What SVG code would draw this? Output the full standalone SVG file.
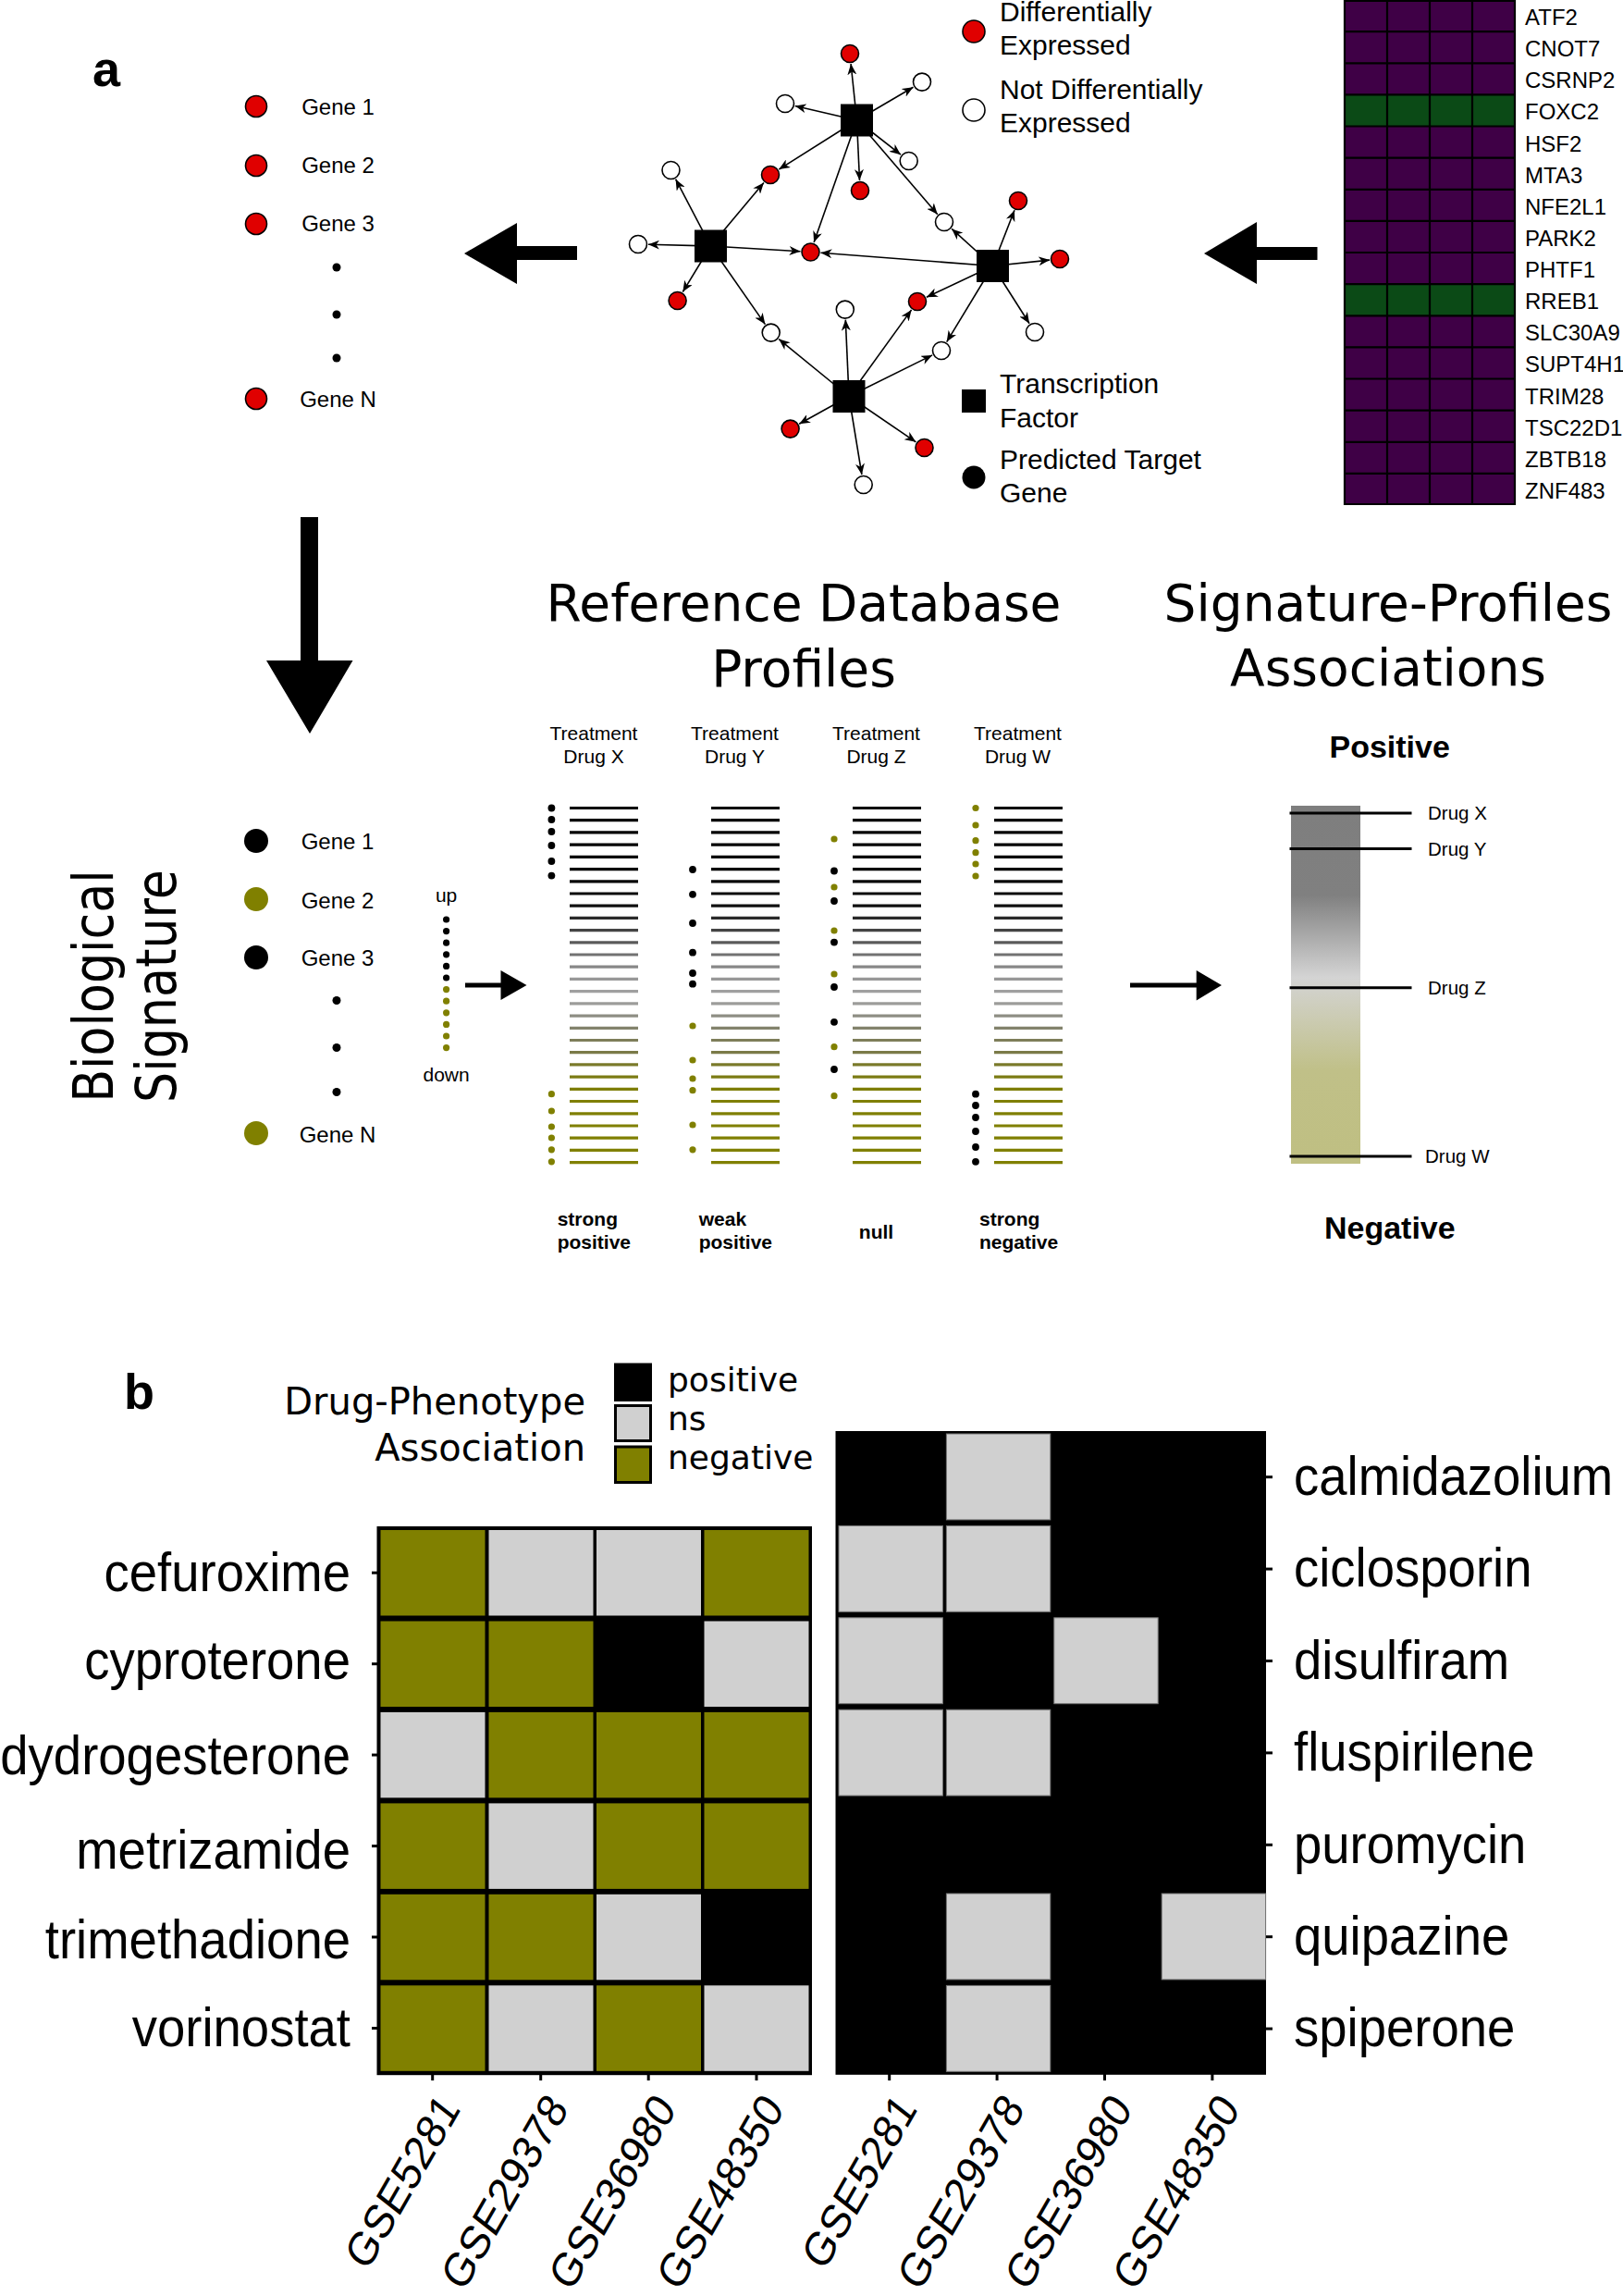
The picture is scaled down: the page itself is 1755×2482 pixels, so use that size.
<svg xmlns="http://www.w3.org/2000/svg" width="1755" height="2482" viewBox="0 0 1755 2482">
<style>
.s{font-family:"Liberation Sans",Arial,sans-serif;fill:#000}
.d{font-family:"DejaVu Sans",Verdana,sans-serif;fill:#000}
.b{font-weight:bold}
.e{stroke:#000;stroke-width:1.6;fill:none;marker-end:url(#ah)}
.rn{fill:#e00000;stroke:#000;stroke-width:1.6}
.wn{fill:#fff;stroke:#000;stroke-width:1.6}
.ol{fill:#808000}
.bk{fill:#000}
.gy{fill:#d0d0d0}
.gc{fill:#d0d0d0;stroke:#777;stroke-width:1}
</style>
<defs>
<marker id="ah" viewBox="0 0 12 10" refX="12" refY="5" markerWidth="12" markerHeight="10" markerUnits="userSpaceOnUse" orient="auto">
<path d="M0,0 L12,5 L0,10 L3.5,5 z" fill="#000"/>
</marker>
<linearGradient id="sig" x1="0" y1="0" x2="0" y2="1">
<stop offset="0" stop-color="#7e7e7e"/>
<stop offset="0.25" stop-color="#808080"/>
<stop offset="0.48" stop-color="#d4d4d4"/>
<stop offset="0.74" stop-color="#c0c088"/>
<stop offset="1" stop-color="#bfbf82"/>
</linearGradient>
<g id="bars" stroke-width="3.2">
<line x1="0" x2="74" y1="873.5" y2="873.5" stroke="#000"/>
<line x1="0" x2="74" y1="886.7" y2="886.7" stroke="#000"/>
<line x1="0" x2="74" y1="899.9" y2="899.9" stroke="#000"/>
<line x1="0" x2="74" y1="913.1" y2="913.1" stroke="#000"/>
<line x1="0" x2="74" y1="926.3" y2="926.3" stroke="#000"/>
<line x1="0" x2="74" y1="939.6" y2="939.6" stroke="#000"/>
<line x1="0" x2="74" y1="952.8" y2="952.8" stroke="#050505"/>
<line x1="0" x2="74" y1="966.0" y2="966.0" stroke="#0a0a0a"/>
<line x1="0" x2="74" y1="979.2" y2="979.2" stroke="#111"/>
<line x1="0" x2="74" y1="992.4" y2="992.4" stroke="#2a2a2a"/>
<line x1="0" x2="74" y1="1005.6" y2="1005.6" stroke="#444"/>
<line x1="0" x2="74" y1="1018.8" y2="1018.8" stroke="#5a5a5a"/>
<line x1="0" x2="74" y1="1032.0" y2="1032.0" stroke="#727272"/>
<line x1="0" x2="74" y1="1045.2" y2="1045.2" stroke="#888"/>
<line x1="0" x2="74" y1="1058.4" y2="1058.4" stroke="#989898"/>
<line x1="0" x2="74" y1="1071.7" y2="1071.7" stroke="#a0a0a0"/>
<line x1="0" x2="74" y1="1084.9" y2="1084.9" stroke="#9c9c9a"/>
<line x1="0" x2="74" y1="1098.1" y2="1098.1" stroke="#8e8e84"/>
<line x1="0" x2="74" y1="1111.3" y2="1111.3" stroke="#83836c"/>
<line x1="0" x2="74" y1="1124.5" y2="1124.5" stroke="#7e7e5a"/>
<line x1="0" x2="74" y1="1137.7" y2="1137.7" stroke="#7a7a48"/>
<line x1="0" x2="74" y1="1150.9" y2="1150.9" stroke="#7a7a2a"/>
<line x1="0" x2="74" y1="1164.1" y2="1164.1" stroke="#7c7c14"/>
<line x1="0" x2="74" y1="1177.3" y2="1177.3" stroke="#7e7e05"/>
<line x1="0" x2="74" y1="1190.5" y2="1190.5" stroke="#7f7f00"/>
<line x1="0" x2="74" y1="1203.8" y2="1203.8" stroke="#7f7f00"/>
<line x1="0" x2="74" y1="1217.0" y2="1217.0" stroke="#808000"/>
<line x1="0" x2="74" y1="1230.2" y2="1230.2" stroke="#808000"/>
<line x1="0" x2="74" y1="1243.4" y2="1243.4" stroke="#808000"/>
<line x1="0" x2="74" y1="1256.6" y2="1256.6" stroke="#808000"/>
</g>
</defs>
<rect width="1755" height="2482" fill="#fff"/>

<!-- ===== Panel a : top row ===== -->
<g id="label-a"><text class="s b" x="100" y="93" font-size="54">a</text></g>

<g id="gene-list-top">
<circle class="rn" cx="277" cy="115" r="11.5" stroke-width="2.6"/>
<circle class="rn" cx="277" cy="179" r="11.5" stroke-width="2.6"/>
<circle class="rn" cx="277" cy="242" r="11.5" stroke-width="2.6"/>
<circle class="rn" cx="277" cy="431" r="11.5" stroke-width="2.6"/>
<g class="s" font-size="24" text-anchor="middle">
<text x="365.5" y="124">Gene 1</text>
<text x="365.5" y="187">Gene 2</text>
<text x="365.5" y="250">Gene 3</text>
<text x="365.5" y="440">Gene N</text>
</g>
<circle cx="364" cy="289" r="4.5"/>
<circle cx="364" cy="340" r="4.5"/>
<circle cx="364" cy="387" r="4.5"/>
</g>

<g id="connectors">
<polygon points="502,274 559,241 559,266 624,266 624,281 559,281 559,307"/>
<polygon points="1302,274 1359,240 1359,267 1424.5,267 1424.5,281 1359,281 1359,307"/>
<polygon points="325,559 344,559 344,714 381.5,714 335,793 288,714 325,714"/>
<polygon points="503,1062.5 541.5,1062.5 541.5,1049 569.5,1065 541.5,1081 541.5,1067.5 503,1067.5"/>
<polygon points="1222,1062.5 1293.7,1062.5 1293.7,1049 1321,1065 1293.7,1081.6 1293.7,1067.5 1222,1067.5"/>
<line class="e" x1="926.5" y1="130" x2="920.1" y2="69"/>
<line class="e" x1="926.5" y1="130" x2="987.5" y2="94.2"/>
<line class="e" x1="926.5" y1="130" x2="859.7" y2="114.5"/>
<line class="e" x1="926.5" y1="130" x2="842.3" y2="183.1"/>
<line class="e" x1="926.5" y1="130" x2="929.5" y2="195"/>
<line class="e" x1="926.5" y1="130" x2="974" y2="167.2"/>
<line class="e" x1="926.5" y1="130" x2="1013.8" y2="231.7"/>
<line class="e" x1="926.5" y1="130" x2="880.1" y2="262.1"/>
<line class="e" x1="768.5" y1="266" x2="730.6" y2="193.7"/>
<line class="e" x1="768.5" y1="266" x2="825.9" y2="197.4"/>
<line class="e" x1="768.5" y1="266" x2="701" y2="264.3"/>
<line class="e" x1="768.5" y1="266" x2="865.5" y2="271.8"/>
<line class="e" x1="768.5" y1="266" x2="738.3" y2="315.6"/>
<line class="e" x1="768.5" y1="266" x2="827.4" y2="350.6"/>
<line class="e" x1="1073.5" y1="287.5" x2="1029.2" y2="247.4"/>
<line class="e" x1="1073.5" y1="287.5" x2="1097" y2="227.2"/>
<line class="e" x1="1073.5" y1="287.5" x2="1135.1" y2="281.1"/>
<line class="e" x1="1073.5" y1="287.5" x2="887.5" y2="273.3"/>
<line class="e" x1="1073.5" y1="287.5" x2="1001.9" y2="321.3"/>
<line class="e" x1="1073.5" y1="287.5" x2="1023.7" y2="369.6"/>
<line class="e" x1="1073.5" y1="287.5" x2="1113.1" y2="349.7"/>
<line class="e" x1="918" y1="428.5" x2="842.2" y2="366.6"/>
<line class="e" x1="918" y1="428.5" x2="914.3" y2="345.6"/>
<line class="e" x1="918" y1="428.5" x2="985.6" y2="334.9"/>
<line class="e" x1="918" y1="428.5" x2="1008.1" y2="383.9"/>
<line class="e" x1="918" y1="428.5" x2="864.2" y2="458.3"/>
<line class="e" x1="918" y1="428.5" x2="990.4" y2="477.8"/>
<line class="e" x1="918" y1="428.5" x2="931.9" y2="513.1"/>
</g>

<g id="network">
<g id="tf-nodes">
<rect x="909" y="112.5" width="35" height="35"/>
<rect x="751" y="248.5" width="35" height="35"/>
<rect x="1056" y="270" width="35" height="35"/>
<rect x="900.5" y="411" width="35" height="35"/>
</g>
<g id="target-nodes">
<circle class="rn" cx="919" cy="58" r="9.5"/>
<circle class="rn" cx="833" cy="189" r="9.5"/>
<circle class="rn" cx="930" cy="206" r="9.5"/>
<circle class="rn" cx="876.5" cy="272.5" r="9.5"/>
<circle class="rn" cx="1101" cy="217" r="9.5"/>
<circle class="rn" cx="1146" cy="280" r="9.5"/>
<circle class="rn" cx="732.6" cy="325" r="9.5"/>
<circle class="rn" cx="992" cy="326" r="9.5"/>
<circle class="rn" cx="854.6" cy="463.6" r="9.5"/>
<circle class="rn" cx="999.5" cy="484" r="9.5"/>
<circle class="wn" cx="997" cy="88.6" r="9.5"/>
<circle class="wn" cx="849" cy="112" r="9.5"/>
<circle class="wn" cx="982.7" cy="174" r="9.5"/>
<circle class="wn" cx="725.5" cy="184" r="9.5"/>
<circle class="wn" cx="1021" cy="240" r="9.5"/>
<circle class="wn" cx="690" cy="264" r="9.5"/>
<circle class="wn" cx="913.8" cy="334.6" r="9.5"/>
<circle class="wn" cx="833.7" cy="359.6" r="9.5"/>
<circle class="wn" cx="1119" cy="359" r="9.5"/>
<circle class="wn" cx="1018" cy="379" r="9.5"/>
<circle class="wn" cx="933.7" cy="524" r="9.5"/>
</g>
</g>

<g id="network-legend" class="s" font-size="30">
<circle class="rn" cx="1053" cy="34" r="12" stroke-width="2.4"/>
<text x="1081" y="23">Differentially</text>
<text x="1081" y="59">Expressed</text>
<circle class="wn" cx="1053" cy="119" r="12" stroke-width="2.4"/>
<text x="1081" y="107">Not Differentially</text>
<text x="1081" y="143">Expressed</text>
<rect x="1040" y="421" width="26" height="25"/>
<text x="1081" y="425">Transcription</text>
<text x="1081" y="462">Factor</text>
<circle cx="1053" cy="516" r="12.5"/>
<text x="1081" y="507">Predicted Target</text>
<text x="1081" y="543">Gene</text>
</g>

<g id="tf-heatmap">
<rect x="1454" y="0" width="184" height="546" fill="#3f0046"/>
<rect x="1454" y="102.4" width="184" height="34.1" fill="#0b4a16"/>
<rect x="1454" y="307.1" width="184" height="34.1" fill="#0b4a16"/>
<path d="M1454,0V546M1500,0V546M1546,0V546M1592,0V546M1638,0V546M1454,1H1638M1454,34.1H1638M1454,68.3H1638M1454,102.4H1638M1454,136.5H1638M1454,170.6H1638M1454,204.8H1638M1454,238.9H1638M1454,273H1638M1454,307.1H1638M1454,341.3H1638M1454,375.4H1638M1454,409.5H1638M1454,443.6H1638M1454,477.8H1638M1454,511.9H1638M1454,545H1638" stroke="#000" stroke-width="2.2" fill="none"/>
<g class="s" font-size="24">
<text x="1649" y="27">ATF2</text>
<text x="1649" y="61">CNOT7</text>
<text x="1649" y="95">CSRNP2</text>
<text x="1649" y="129">FOXC2</text>
<text x="1649" y="163.5">HSF2</text>
<text x="1649" y="197.5">MTA3</text>
<text x="1649" y="231.5">NFE2L1</text>
<text x="1649" y="265.5">PARK2</text>
<text x="1649" y="300">PHTF1</text>
<text x="1649" y="334">RREB1</text>
<text x="1649" y="368">SLC30A9</text>
<text x="1649" y="402">SUPT4H1</text>
<text x="1649" y="436.5">TRIM28</text>
<text x="1649" y="470.5">TSC22D1</text>
<text x="1649" y="504.5">ZBTB18</text>
<text x="1649" y="538.5">ZNF483</text>
</g>
</g>

<!-- ===== Panel a : bottom row ===== -->
<g id="bio-signature-title" class="d" font-size="60">
<text transform="translate(122,1066) rotate(-90) scale(0.87,1)" text-anchor="middle">Biological</text>
<text transform="translate(190,1066) rotate(-90) scale(0.87,1)" text-anchor="middle">Signature</text>
</g>

<g id="gene-list-bottom">
<circle cx="277" cy="909" r="13"/>
<circle class="ol" cx="277" cy="972" r="13"/>
<circle cx="277" cy="1035" r="13"/>
<circle class="ol" cx="277" cy="1225" r="13"/>
<g class="s" font-size="24" text-anchor="middle">
<text x="365" y="918">Gene 1</text>
<text x="365" y="981.5">Gene 2</text>
<text x="365" y="1044">Gene 3</text>
<text x="365" y="1234.5">Gene N</text>
</g>
<circle cx="364" cy="1081.5" r="4.5"/>
<circle cx="364" cy="1132.5" r="4.5"/>
<circle cx="364" cy="1180.5" r="4.5"/>
</g>

<g id="ranked-signature">
<text class="s" x="482.6" y="975" font-size="21" text-anchor="middle" fill="#222">up</text>
<text class="s" x="482.6" y="1169" font-size="21" text-anchor="middle" fill="#222">down</text>
<g>
<circle cx="482.6" cy="994" r="3.6"/><circle cx="482.6" cy="1006.6" r="3.6"/><circle cx="482.6" cy="1019.2" r="3.6"/><circle cx="482.6" cy="1031.8" r="3.6"/><circle cx="482.6" cy="1044.4" r="3.6"/><circle cx="482.6" cy="1057" r="3.6"/>
</g>
<g class="ol">
<circle cx="482.6" cy="1069.6" r="3.6"/><circle cx="482.6" cy="1082.2" r="3.6"/><circle cx="482.6" cy="1094.8" r="3.6"/><circle cx="482.6" cy="1107.4" r="3.6"/><circle cx="482.6" cy="1120" r="3.6"/><circle cx="482.6" cy="1132.6" r="3.6"/>
</g>
</g>

<g id="reference-db">
<g class="d" font-size="55" text-anchor="middle">
<text x="869" y="671">Reference Database</text>
<text x="869" y="742">Profiles</text>
</g>
<g class="s" font-size="21" text-anchor="middle" fill="#222">
<text x="642" y="799.5">Treatment</text><text x="642" y="825">Drug X</text>
<text x="794.5" y="799.5">Treatment</text><text x="794.5" y="825">Drug Y</text>
<text x="947.5" y="799.5">Treatment</text><text x="947.5" y="825">Drug Z</text>
<text x="1100.5" y="799.5">Treatment</text><text x="1100.5" y="825">Drug W</text>
</g>
<use href="#bars" x="616"/>
<use href="#bars" x="769"/>
<use href="#bars" x="922"/>
<use href="#bars" x="1075"/>
<g>
<circle cx="596.4" cy="873.5" r="3.9"/><circle cx="596.4" cy="886" r="3.9"/><circle cx="596.4" cy="899" r="3.9"/><circle cx="596.4" cy="914" r="3.9"/><circle cx="596.4" cy="931" r="3.9"/><circle cx="596.4" cy="946.6" r="3.9"/>
<circle class="ol" cx="596.4" cy="1182.7" r="3.6"/><circle class="ol" cx="596.4" cy="1201" r="3.6"/><circle class="ol" cx="596.4" cy="1218" r="3.6"/><circle class="ol" cx="596.4" cy="1230" r="3.6"/><circle class="ol" cx="596.4" cy="1242.8" r="3.6"/><circle class="ol" cx="596.4" cy="1255.8" r="3.6"/>
</g>
<g>
<circle cx="749" cy="940" r="3.9"/><circle cx="749" cy="966.8" r="3.9"/><circle cx="749" cy="998" r="3.9"/><circle cx="749" cy="1029.7" r="3.9"/><circle cx="749" cy="1052" r="3.9"/><circle cx="749" cy="1063.7" r="3.9"/>
<circle class="ol" cx="749" cy="1109" r="3.6"/><circle class="ol" cx="749" cy="1146" r="3.6"/><circle class="ol" cx="749" cy="1166" r="3.6"/><circle class="ol" cx="749" cy="1178.7" r="3.6"/><circle class="ol" cx="749" cy="1216" r="3.6"/><circle class="ol" cx="749" cy="1242.8" r="3.6"/>
</g>
<g>
<circle class="ol" cx="902" cy="907" r="3.6"/><circle cx="902" cy="941.5" r="3.9"/><circle class="ol" cx="902" cy="959" r="3.6"/><circle cx="902" cy="974" r="3.9"/><circle class="ol" cx="902" cy="1006" r="3.6"/><circle cx="902" cy="1018.6" r="3.9"/>
<circle class="ol" cx="902" cy="1053" r="3.6"/><circle cx="902" cy="1067" r="3.9"/><circle cx="902" cy="1104.8" r="3.9"/><circle class="ol" cx="902" cy="1131.7" r="3.6"/><circle cx="902" cy="1156" r="3.9"/><circle class="ol" cx="902" cy="1184.7" r="3.6"/>
</g>
<g>
<circle class="ol" cx="1055" cy="873.5" r="3.6"/><circle class="ol" cx="1055" cy="892" r="3.6"/><circle class="ol" cx="1055" cy="908.7" r="3.6"/><circle class="ol" cx="1055" cy="921.7" r="3.6"/><circle class="ol" cx="1055" cy="934" r="3.6"/><circle class="ol" cx="1055" cy="947" r="3.6"/>
<circle cx="1055" cy="1182.7" r="3.9"/><circle cx="1055" cy="1195" r="3.9"/><circle cx="1055" cy="1208" r="3.9"/><circle cx="1055" cy="1223" r="3.9"/><circle cx="1055" cy="1240" r="3.9"/><circle cx="1055" cy="1255.8" r="3.9"/>
</g>
<g class="s b" font-size="21">
<text x="602.7" y="1324.6">strong</text><text x="602.7" y="1350">positive</text>
<text x="755.7" y="1324.6">weak</text><text x="755.7" y="1350">positive</text>
<text x="947.5" y="1339" text-anchor="middle">null</text>
<text x="1059" y="1324.6">strong</text><text x="1059" y="1350">negative</text>
</g>
</g>

<g id="associations">
<g class="d" font-size="55" text-anchor="middle">
<text x="1501" y="671">Signature-Profiles</text>
<text x="1501" y="741">Associations</text>
</g>
<text class="s b" x="1502.7" y="819" font-size="34" text-anchor="middle">Positive</text>
<rect x="1396" y="871" width="75" height="387" fill="url(#sig)"/>
<g stroke="#000" stroke-width="3">
<line x1="1394.5" x2="1526.5" y1="879" y2="879"/>
<line x1="1394.5" x2="1526.5" y1="917.4" y2="917.4"/>
<line x1="1394.5" x2="1526.5" y1="1067.7" y2="1067.7"/>
<line x1="1394.5" x2="1526.5" y1="1250" y2="1250"/>
</g>
<g class="s" font-size="20.5">
<text x="1544" y="886">Drug X</text>
<text x="1544" y="924.5">Drug Y</text>
<text x="1544" y="1074.5">Drug Z</text>
<text x="1541" y="1257">Drug W</text>
</g>
<text class="s b" x="1502.8" y="1339" font-size="34" text-anchor="middle">Negative</text>
</g>

<!-- ===== Panel b ===== -->
<g id="label-b"><text class="s b" x="134" y="1523" font-size="54">b</text></g>

<g id="legend-b">
<g class="d" font-size="40" text-anchor="end">
<text x="633" y="1529">Drug-Phenotype</text>
<text x="633" y="1579">Association</text>
</g>
<rect x="665.5" y="1475" width="38" height="38.5" fill="#000" stroke="#000" stroke-width="3"/>
<rect x="665.5" y="1519.5" width="38" height="38" fill="#d0d0d0" stroke="#000" stroke-width="3"/>
<rect x="665.5" y="1564" width="38" height="38.5" fill="#808000" stroke="#000" stroke-width="3"/>
<g class="d" font-size="36">
<text x="722" y="1504">positive</text>
<text x="722" y="1546">ns</text>
<text x="722" y="1588">negative</text>
</g>
</g>

<g id="heatmap-left">
<rect x="407.5" y="1650" width="470.5" height="593.2" fill="#000"/>
<rect class="ol" x="411.5" y="1654" width="113" height="92.5"/>
<rect class="gy" x="528.5" y="1654" width="113" height="92.5"/>
<rect class="gy" x="645" y="1654" width="113" height="92.5"/>
<rect class="ol" x="761.5" y="1654" width="113" height="92.5"/>
<rect class="ol" x="411.5" y="1752.5" width="113" height="92.5"/>
<rect class="ol" x="528.5" y="1752.5" width="113" height="92.5"/>
<rect class="bk" x="645" y="1752.5" width="113" height="92.5"/>
<rect class="gy" x="761.5" y="1752.5" width="113" height="92.5"/>
<rect class="gy" x="411.5" y="1850.9" width="113" height="92.5"/>
<rect class="ol" x="528.5" y="1850.9" width="113" height="92.5"/>
<rect class="ol" x="645" y="1850.9" width="113" height="92.5"/>
<rect class="ol" x="761.5" y="1850.9" width="113" height="92.5"/>
<rect class="ol" x="411.5" y="1949.4" width="113" height="92.5"/>
<rect class="gy" x="528.5" y="1949.4" width="113" height="92.5"/>
<rect class="ol" x="645" y="1949.4" width="113" height="92.5"/>
<rect class="ol" x="761.5" y="1949.4" width="113" height="92.5"/>
<rect class="ol" x="411.5" y="2047.8" width="113" height="92.5"/>
<rect class="ol" x="528.5" y="2047.8" width="113" height="92.5"/>
<rect class="gy" x="645" y="2047.8" width="113" height="92.5"/>
<rect class="bk" x="761.5" y="2047.8" width="113" height="92.5"/>
<rect class="ol" x="411.5" y="2146.3" width="113" height="92.5"/>
<rect class="gy" x="528.5" y="2146.3" width="113" height="92.5"/>
<rect class="ol" x="645" y="2146.3" width="113" height="92.5"/>
<rect class="gy" x="761.5" y="2146.3" width="113" height="92.5"/>
<g stroke="#000" stroke-width="3">
<line x1="402" x2="409" y1="1700.2" y2="1700.2"/>
<line x1="402" x2="409" y1="1798.7" y2="1798.7"/>
<line x1="402" x2="409" y1="1897.1" y2="1897.1"/>
<line x1="402" x2="409" y1="1995.6" y2="1995.6"/>
<line x1="402" x2="409" y1="2094" y2="2094"/>
<line x1="402" x2="409" y1="2192.5" y2="2192.5"/>
<line x1="467.7" x2="467.7" y1="2242" y2="2249"/>
<line x1="584.7" x2="584.7" y1="2242" y2="2249"/>
<line x1="701.2" x2="701.2" y1="2242" y2="2249"/>
<line x1="818" x2="818" y1="2242" y2="2249"/>
</g>
<g class="s" font-size="54.5" text-anchor="end">
<text transform="translate(379,1720) scale(1,1.09)">cefuroxime</text>
<text transform="translate(379,1815) scale(1,1.09)">cyproterone</text>
<text transform="translate(379,1918) scale(1,1.09)">dydrogesterone</text>
<text transform="translate(379,2020) scale(1,1.09)">metrizamide</text>
<text transform="translate(379,2117) scale(1,1.09)">trimethadione</text>
<text transform="translate(379,2212) scale(1,1.09)">vorinostat</text>
</g>
<g class="s" font-size="47" text-anchor="end">
<text transform="translate(498.7,2280) rotate(-60) skewX(-8)">GSE5281</text>
<text transform="translate(615.7,2280) rotate(-60) skewX(-8)">GSE29378</text>
<text transform="translate(732.2,2280) rotate(-60) skewX(-8)">GSE36980</text>
<text transform="translate(849,2280) rotate(-60) skewX(-8)">GSE48350</text>
</g>
</g>

<g id="heatmap-right">
<rect x="903.5" y="1547" width="465.5" height="695.8" fill="#000"/>
<rect class="gc" x="1023.4" y="1550" width="112.4" height="92.9"/>
<rect class="gc" x="907" y="1649.4" width="112.4" height="92.9"/>
<rect class="gc" x="1023.4" y="1649.4" width="112.4" height="92.9"/>
<rect class="gc" x="907" y="1748.8" width="112.4" height="92.9"/>
<rect class="gc" x="1139.8" y="1748.8" width="112.4" height="92.9"/>
<rect class="gc" x="907" y="1848.2" width="112.4" height="92.9"/>
<rect class="gc" x="1023.4" y="1848.2" width="112.4" height="92.9"/>
<rect class="gc" x="1023.4" y="2047" width="112.4" height="92.9"/>
<rect class="gc" x="1256.2" y="2047" width="112.4" height="92.9"/>
<rect class="gc" x="1023.4" y="2146.4" width="112.4" height="92.9"/>
<g stroke="#000" stroke-width="3">
<line x1="1369" x2="1376" y1="1596.7" y2="1596.7"/>
<line x1="1369" x2="1376" y1="1696.1" y2="1696.1"/>
<line x1="1369" x2="1376" y1="1795.5" y2="1795.5"/>
<line x1="1369" x2="1376" y1="1894.9" y2="1894.9"/>
<line x1="1369" x2="1376" y1="1994.3" y2="1994.3"/>
<line x1="1369" x2="1376" y1="2093.7" y2="2093.7"/>
<line x1="1369" x2="1376" y1="2193.1" y2="2193.1"/>
<line x1="961.7" x2="961.7" y1="2242" y2="2249"/>
<line x1="1078.1" x2="1078.1" y1="2242" y2="2249"/>
<line x1="1194.5" x2="1194.5" y1="2242" y2="2249"/>
<line x1="1310.9" x2="1310.9" y1="2242" y2="2249"/>
</g>
<g class="s" font-size="54.5">
<text transform="translate(1399,1616) scale(1,1.09)">calmidazolium</text>
<text transform="translate(1399,1715) scale(1,1.09)">ciclosporin</text>
<text transform="translate(1399,1814.5) scale(1,1.09)">disulfiram</text>
<text transform="translate(1399,1914) scale(1,1.09)">fluspirilene</text>
<text transform="translate(1399,2013.5) scale(1,1.09)">puromycin</text>
<text transform="translate(1399,2112.5) scale(1,1.09)">quipazine</text>
<text transform="translate(1399,2212) scale(1,1.09)">spiperone</text>
</g>
<g class="s" font-size="47" text-anchor="end">
<text transform="translate(992.7,2280) rotate(-60) skewX(-8)">GSE5281</text>
<text transform="translate(1109.1,2280) rotate(-60) skewX(-8)">GSE29378</text>
<text transform="translate(1225.5,2280) rotate(-60) skewX(-8)">GSE36980</text>
<text transform="translate(1341.9,2280) rotate(-60) skewX(-8)">GSE48350</text>
</g>
</g>
</svg>
